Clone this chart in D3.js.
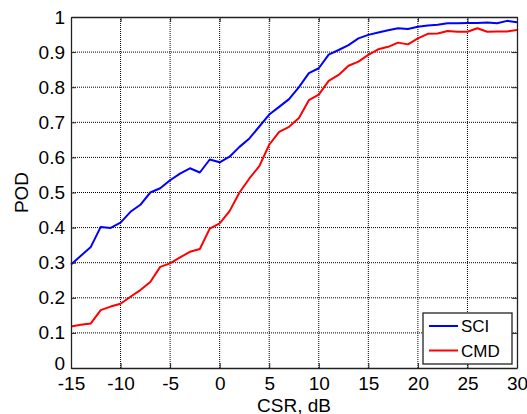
<!DOCTYPE html>
<html>
<head>
<meta charset="utf-8">
<script src="https://cdn.jsdelivr.net/npm/d3@7"></script>
<style>
  html, body { margin: 0; padding: 0; background: #fff; }
  svg { display: block; font-family: "Liberation Sans", Arial, sans-serif; }
</style>
</head>
<body>
<svg id="chart" width="527" height="414"></svg>
<script>
// CSR values in dB, one sample per dB
const csr = d3.range(-15, 31);

// Probability of detection per method
const sci = [0.295, 0.320, 0.345, 0.402, 0.399, 0.414, 0.445, 0.465, 0.500, 0.512,
             0.535, 0.554, 0.569, 0.557, 0.594, 0.586, 0.602, 0.630, 0.654, 0.688,
             0.722, 0.744, 0.766, 0.800, 0.840, 0.854, 0.893, 0.906, 0.920, 0.939,
             0.949, 0.956, 0.962, 0.968, 0.966, 0.972, 0.976, 0.978, 0.982, 0.982,
             0.983, 0.983, 0.984, 0.982, 0.989, 0.985];
const cmd = [0.118, 0.123, 0.127, 0.165, 0.175, 0.183, 0.203, 0.222, 0.245, 0.288,
             0.298, 0.315, 0.331, 0.339, 0.397, 0.412, 0.447, 0.500, 0.540, 0.575,
             0.636, 0.673, 0.687, 0.712, 0.763, 0.779, 0.818, 0.835, 0.861, 0.873,
             0.892, 0.908, 0.915, 0.927, 0.922, 0.939, 0.952, 0.953, 0.960, 0.958,
             0.958, 0.968, 0.958, 0.959, 0.959, 0.963];

const xTicks = [-15, -10, -5, 0, 5, 10, 15, 20, 25, 30];
const yTicks = [0, 0.1, 0.2, 0.3, 0.4, 0.5, 0.6, 0.7, 0.8, 0.9, 1];

const seriesNames = ["SCI", "CMD"];
const seriesColors = ["#0000ff", "#ff0000"];

const plotL = 71, plotR = 517, plotT = 17, plotB = 368;
const svg = d3.select("#chart");

const x = d3.scaleLinear().domain([-15, 30]).range([plotL, plotR]);
const y = d3.scaleLinear().domain([0, 1]).range([plotB, plotT]);

// dotted grid
const grid = svg.append("g");
grid.selectAll("line.vx").data(xTicks.slice(1, -1)).join("line")
  .attr("x1", d => x(d)).attr("x2", d => x(d))
  .attr("y1", plotT).attr("y2", plotB);
grid.selectAll("line.hy").data(yTicks.slice(1, -1)).join("line")
  .attr("x1", plotL).attr("x2", plotR)
  .attr("y1", d => y(d)).attr("y2", d => y(d));
grid.selectAll("line")
  .attr("stroke", "#000").attr("stroke-width", 1)
  .attr("stroke-dasharray", "1,1");

// data lines
const line = d3.line().x((d, i) => x(csr[i])).y(d => y(d));
[sci, cmd].forEach((s, k) => {
  svg.append("path").datum(s)
    .attr("d", line)
    .attr("fill", "none")
    .attr("stroke", seriesColors[k])
    .attr("stroke-width", 2)
    .attr("stroke-linejoin", "round");
});

// axes with inward ticks
const fmt = d => String(+d.toFixed(1));
const xAxis = svg.append("g").attr("transform", `translate(0,${plotB})`)
  .call(d3.axisBottom(x).tickValues(xTicks).tickSizeInner(-5).tickSizeOuter(0).tickPadding(9).tickFormat(d => d));
const yAxis = svg.append("g").attr("transform", `translate(${plotL},0)`)
  .call(d3.axisLeft(y).tickValues(yTicks).tickSizeInner(-5).tickSizeOuter(0).tickPadding(6).tickFormat(fmt));
svg.append("g").attr("transform", `translate(0,${plotT})`)
  .call(d3.axisTop(x).tickValues(xTicks).tickSizeInner(-5).tickSizeOuter(0).tickFormat(""));
svg.append("g").attr("transform", `translate(${plotR},0)`)
  .call(d3.axisRight(y).tickValues(yTicks).tickSizeInner(-5).tickSizeOuter(0).tickFormat(""));

svg.selectAll(".domain").attr("stroke", "#222").attr("stroke-width", 1.3);
svg.selectAll(".tick line").attr("stroke", "#222");
xAxis.selectAll("text").attr("font-size", 19).attr("fill", "#000");
yAxis.selectAll("text").attr("font-size", 19).attr("fill", "#000");
// lift the bottom "0" a little so it clears the "-15" below it
yAxis.selectAll(".tick").filter(d => d === 0).select("text").attr("dy", "0.1em");

// axis titles
svg.append("text").attr("x", x(7.5)).attr("y", 411.5)
  .attr("text-anchor", "middle").attr("font-size", 19).text("CSR, dB");
svg.append("text").attr("transform", `translate(28,${y(0.5)}) rotate(-90)`)
  .attr("text-anchor", "middle").attr("font-size", 19).text("POD");

// legend
const lg = svg.append("g");
lg.append("rect").attr("x", 423).attr("y", 313).attr("width", 89).attr("height", 51)
  .attr("fill", "#fff").attr("stroke", "#222").attr("stroke-width", 1.3);
seriesNames.forEach((name, k) => {
  const ly = 326 + k * 24.5;
  lg.append("line").attr("x1", 429).attr("x2", 458).attr("y1", ly).attr("y2", ly)
    .attr("stroke", seriesColors[k]).attr("stroke-width", 2);
  lg.append("text").attr("x", 461).attr("y", ly + 6).attr("font-size", 17).text(name);
});
</script>
</body>
</html>
